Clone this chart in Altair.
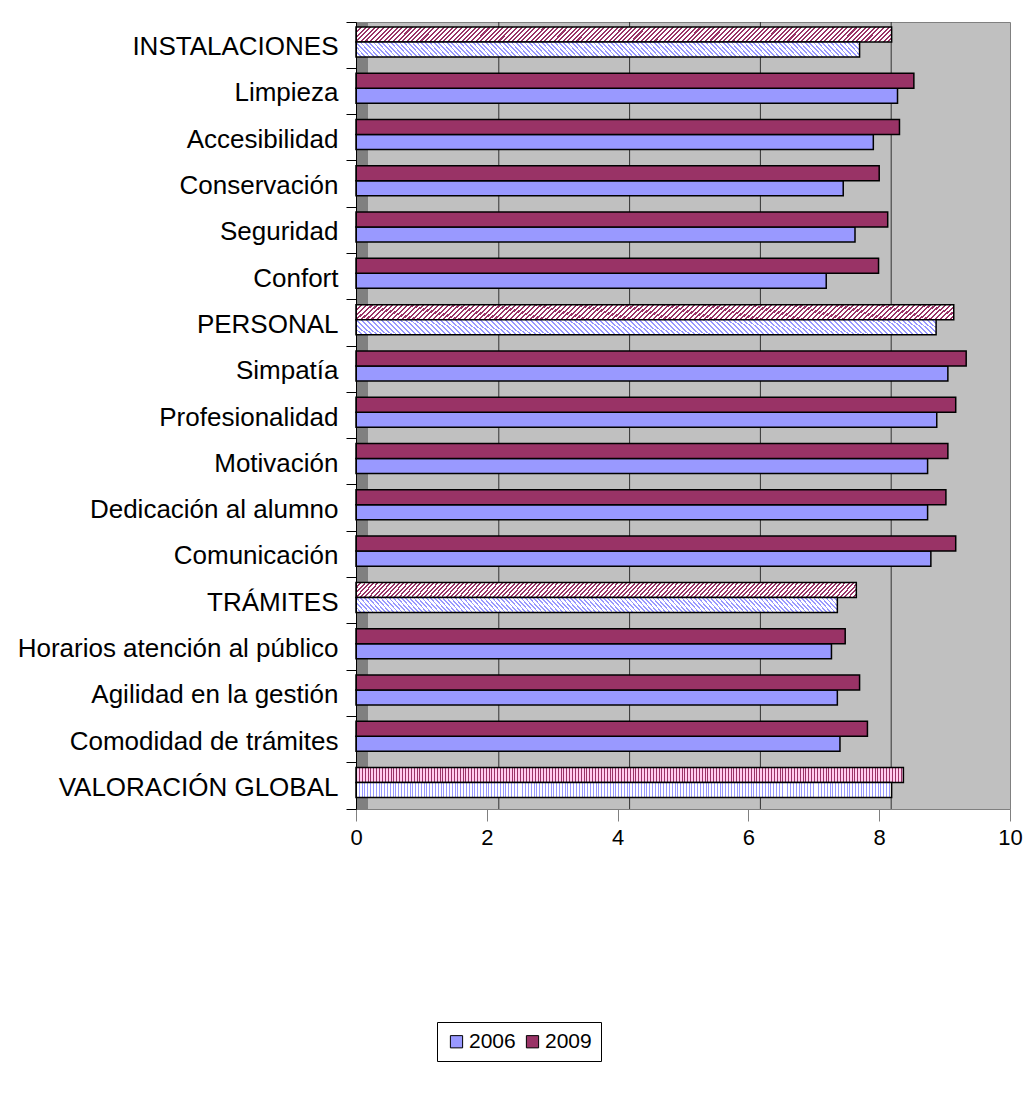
import altair as alt
import pandas as pd

categories = ["INSTALACIONES", "Limpieza", "Accesibilidad", "Conservación", "Seguridad", "Confort",
              "PERSONAL", "Simpatía", "Profesionalidad", "Motivación", "Dedicación al alumno", "Comunicación",
              "TRÁMITES", "Horarios atención al  público", "Agilidad en la gestión", "Comodidad de trámites",
              "VALORACIÓN GLOBAL"]
kinds = ["group", "item", "item", "item", "item", "item",
         "group", "item", "item", "item", "item", "item",
         "group", "item", "item", "item",
         "global"]
values_2006 = [7.70, 8.28, 7.91, 7.45, 7.63, 7.19, 8.87, 9.05, 8.88, 8.74, 8.74, 8.79, 7.36, 7.27, 7.36, 7.40, 8.19]
values_2009 = [8.19, 8.53, 8.31, 8.00, 8.13, 7.99, 9.14, 9.33, 9.17, 9.05, 9.02, 9.17, 7.65, 7.48, 7.70, 7.82, 8.37]
series = ["2006", "2009"]
series_colors = ["#9999FF", "#993366"]
x_ticks = [0, 2, 4, 6, 8, 10]
grid_values = [2, 4, 6, 8]

rows = []
for c, k, a, b in zip(categories, kinds, values_2006, values_2009):
    rows.append({"cat": c, "kind": k, "series": "2006", "value": a})
    rows.append({"cat": c, "kind": k, "series": "2009", "value": b})
df = pd.DataFrame(rows)
grid_df = pd.DataFrame({"g": grid_values})
wall_df = pd.DataFrame({"w": [0]})

FONT = "Liberation Sans"
W, H = 654, 787


def stripes(c_line, c_bg, n, frac, x1, y1, x2, y2):
    stops = []
    for i in range(n):
        a = i / n
        b = (i + frac) / n
        e = (i + 1) / n
        stops += [{"offset": a, "color": c_line}, {"offset": b, "color": c_line},
                  {"offset": b, "color": c_bg}, {"offset": e, "color": c_bg}]
    return {"gradient": "linear", "x1": x1, "y1": y1, "x2": x2, "y2": y2, "stops": stops}


r = 15.0 / 540.0
s = (1 + r) / (1 + r * r)
hatch_2009 = stripes("#993366", "#ffffff", 120, 0.45, 0, 0, s, s * r)
hatch_2006 = stripes("#9999FF", "#ffffff", 120, 0.4, -r, 0, -r + s, -s * r)
vert_2009 = stripes("#993366", "#ffccee", 190, 0.35, 0, 0, 1, 0)
vert_2006 = stripes("#9999FF", "#ffffff", 190, 0.35, 0, 0, 1, 0)

x_scale = alt.Scale(domain=[0, 10], nice=False, zero=True)
x_axis = alt.Axis(values=x_ticks, title=None, grid=False, tickSize=12, tickColor="#808080",
                  domainColor="#808080", labelFontSize=22, labelFont=FONT, labelColor="black",
                  labelPadding=6, labelFlush=False, zindex=1)
y_axis = alt.Axis(title=None, tickSize=10, tickColor="black", domainColor="black", labelFontSize=26,
                  labelFont=FONT, labelColor="black", labelPadding=8, bandPosition=1, tickExtra=True,
                  labelLimit=400, labelOffset=2, zindex=1)
y_enc = alt.Y("cat:N", sort=categories, scale=alt.Scale(paddingInner=0, paddingOuter=0), axis=y_axis)
yoff_enc = alt.YOffset("series:N", sort=["2009", "2006"],
                       scale=alt.Scale(paddingInner=0, paddingOuter=0.543, align=0.3))
x_enc = alt.X("value:Q", scale=x_scale, axis=x_axis)

wall = alt.Chart(wall_df).mark_rect(fill="#808080", x2Offset=12).encode(
    x=alt.X("w:Q", scale=x_scale, axis=x_axis), x2="w:Q")

grid = alt.Chart(grid_df).mark_rule(color="#333333", strokeWidth=1, xOffset=12).encode(
    x=alt.X("g:Q", scale=x_scale, axis=x_axis))

base = alt.Chart(df)

bars = base.transform_filter(alt.datum.kind == "item").mark_bar(stroke="black", strokeWidth=1.5).encode(
    x=x_enc, y=y_enc, yOffset=yoff_enc,
    color=alt.Color("series:N", scale=alt.Scale(domain=series, range=series_colors),
                    legend=alt.Legend(title=None, orient="none", legendX=81, legendY=1000,
                                      direction="horizontal", symbolType="square", symbolSize=150,
                                      symbolStrokeColor="black", symbolStrokeWidth=1,
                                      labelFontSize=21, labelFont=FONT, labelColor="black",
                                      strokeColor="black", fillColor="white", padding=9,
                                      columnPadding=6, labelOffset=2)))


def pattern_layer(kind, ser, fill):
    return base.transform_filter((alt.datum.kind == kind) & (alt.datum.series == ser)).mark_bar(
        stroke="black", strokeWidth=1.5, fill=fill).encode(x=x_enc, y=y_enc, yOffset=yoff_enc)


chart = alt.layer(
    wall, grid, bars,
    pattern_layer("group", "2009", hatch_2009),
    pattern_layer("group", "2006", hatch_2006),
    pattern_layer("global", "2009", vert_2009),
    pattern_layer("global", "2006", vert_2006),
).properties(
    width=W, height=H,
    padding={"left": 356, "top": 22, "right": 18, "bottom": 1111 - 22 - H},
    autosize=alt.AutoSizeParams(type="none"),
    background="white",
).configure_view(fill="#C0C0C0", stroke="#808080", strokeWidth=1)

chart.save("out.html", embed_options={"renderer": "svg", "actions": False})
